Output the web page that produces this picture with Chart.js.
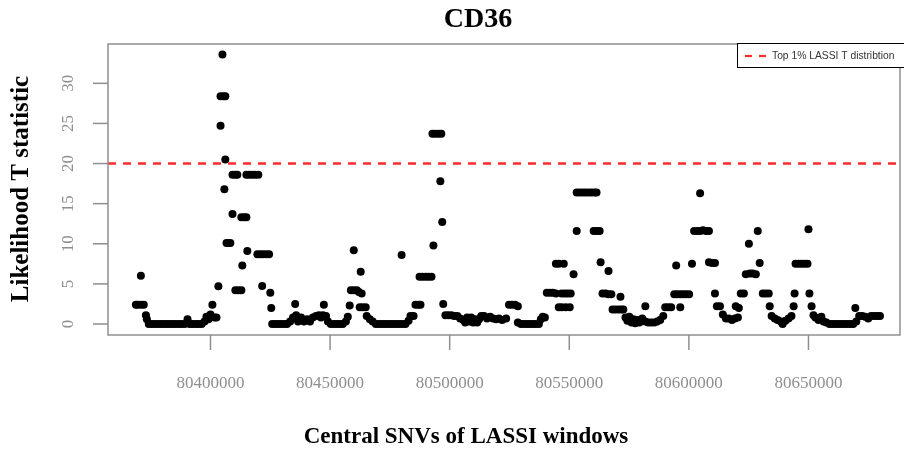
<!DOCTYPE html>
<html>
<head>
<meta charset="utf-8">
<script src="https://cdn.jsdelivr.net/npm/chart.js@4.4.1/dist/chart.umd.min.js"></script>
<style>
  html, body { margin: 0; padding: 0; background: #fff; }
  #wrap { width: 904px; height: 450px; }
</style>
</head>
<body>
<div id="wrap"><canvas id="plot" width="904" height="450"></canvas></div>
<script>
// ================= DATA =================
const geneName = "CD36";
const threshold = 20; // top 1% LASSI T

// central SNV position of each window (kb on the chromosome)
const snvPosKb = [
  80368.8, 80369.6, 80370.9, 80370.9, 80372.1, 80373.0, 80373.4, 80374.2, 80375.5, 80376.7,
  80378.0, 80379.2, 80380.4, 80381.7, 80382.9, 80384.2, 80385.4, 80386.7, 80387.9, 80389.2,
  80390.4, 80391.3, 80392.5, 80393.8, 80395.0, 80396.3, 80397.5, 80398.3, 80399.2, 80400.0,
  80400.8, 80401.7, 80402.5, 80403.3,
  80404.2, 80404.2, 80405.0, 80405.4, 80406.2, 80405.8, 80406.2, 80406.7, 80407.5, 80408.3,
  80409.2, 80409.2, 80410.4, 80411.2, 80410.4, 80411.6, 80412.9, 80413.3, 80412.9, 80414.1,
  80415.0, 80415.4, 80415.0, 80416.2, 80417.5, 80418.7, 80420.0, 80419.6, 80420.8, 80421.6,
  80422.0, 80423.3, 80424.5, 80425.0, 80425.4,
  80425.8, 80427.0, 80428.3, 80429.5, 80430.8, 80432.0, 80433.3, 80434.5, 80435.4, 80435.8,
  80436.6, 80437.9, 80439.1, 80440.4, 80441.6, 80442.8, 80444.1, 80445.3, 80446.2, 80447.0,
  80447.4, 80448.3, 80449.1, 80450.3, 80451.6, 80452.8, 80454.1, 80455.3, 80456.6, 80457.4,
  80458.2, 80458.7, 80459.9, 80459.9, 80461.2, 80462.0, 80462.4, 80462.8, 80463.2, 80463.6,
  80464.9, 80465.3, 80466.6, 80467.8,
  80469.1, 80470.3, 80471.6, 80472.8, 80474.0, 80475.3, 80476.5, 80477.8, 80479.0, 80479.9,
  80480.3, 80481.5, 80482.8, 80483.6, 80484.9, 80485.7, 80486.9, 80487.8, 80487.4, 80488.6,
  80489.9, 80491.1, 80492.4, 80493.2, 80492.8, 80494.0, 80495.3, 80496.5, 80496.1, 80496.9,
  80497.3,
  80498.2, 80499.4, 80500.7, 80501.9, 80503.2, 80504.4, 80505.7, 80506.5, 80507.3, 80508.2,
  80509.0, 80509.8, 80510.7, 80511.5, 80512.3, 80513.2, 80514.4, 80515.6, 80516.9, 80518.1,
  80519.4, 80520.6, 80521.9, 80523.6, 80524.8, 80526.0, 80527.3, 80528.5, 80528.5, 80529.8,
  80531.0, 80532.3, 80533.5, 80534.8, 80536.0, 80537.3, 80538.1, 80538.9, 80539.8,
  80540.6, 80541.9, 80543.1, 80544.4, 80544.4, 80545.6, 80545.6, 80546.8, 80546.8, 80547.7,
  80548.1, 80548.5, 80549.3, 80550.2, 80550.6, 80551.8, 80553.1, 80553.1, 80554.3, 80555.6,
  80556.8, 80558.1, 80559.3, 80560.6, 80561.4, 80560.2, 80561.4, 80562.7, 80563.1, 80563.9,
  80565.2, 80566.4, 80566.4, 80567.6, 80568.1, 80569.3, 80570.6, 80571.4, 80571.8, 80572.6,
  80573.5, 80574.3, 80575.1, 80576.0, 80576.8, 80577.6, 80578.5, 80579.3, 80580.5, 80581.8,
  80581.8, 80583.0, 80584.3, 80585.5, 80586.8, 80588.0, 80589.3,
  80590.1, 80591.4, 80592.6, 80593.9, 80594.7, 80595.1, 80596.4, 80596.4, 80597.6, 80598.8,
  80600.1, 80601.3, 80602.2, 80603.4, 80604.7, 80604.7, 80605.9, 80607.2, 80608.4, 80608.4,
  80609.7, 80610.9, 80610.9, 80611.7, 80613.0, 80614.2, 80615.5, 80616.7, 80618.0, 80619.2,
  80620.5, 80619.6, 80620.9, 80621.7, 80623.0, 80623.8, 80625.1, 80625.5, 80626.7, 80628.0,
  80628.8, 80629.6, 80630.9, 80632.1, 80633.4, 80633.8, 80634.6, 80635.9, 80637.1, 80638.4,
  80639.2, 80640.4, 80641.7, 80642.9, 80643.8, 80644.2, 80644.6, 80645.9, 80647.1, 80648.4,
  80649.6, 80650.0, 80650.4, 80651.3, 80652.1, 80652.9, 80654.2, 80655.4, 80656.3, 80657.5,
  80658.8, 80660.0, 80661.2, 80662.5, 80663.7, 80665.0, 80666.2, 80667.5, 80668.7, 80669.6,
  80670.0, 80671.2, 80672.5, 80673.7, 80675.0, 80676.2, 80677.5, 80678.7, 80679.9
];

// likelihood T statistic per window
const tStat = [
  2.4, 2.4, 6.0, 2.4, 2.4, 1.1, 0.6, 0, 0, 0,
  0, 0, 0, 0, 0, 0, 0, 0, 0, 0,
  0.6, 0, 0, 0, 0, 0, 0.3, 0.9, 0.6, 1.2,
  2.4, 0.8, 0.8, 4.7,
  24.7, 28.4, 33.6, 28.4, 28.4, 16.8, 20.5, 10.1, 10.1, 10.1,
  13.7, 18.6, 18.6, 18.6, 4.2, 4.2, 4.2, 7.3, 13.3, 13.3,
  13.3, 9.1, 18.6, 18.6, 18.6, 18.6, 18.6, 8.7, 8.7, 4.75,
  8.7, 8.7, 8.7, 3.9, 2.0,
  0, 0, 0, 0, 0, 0, 0.3, 0.8, 2.5, 1.1,
  0.3, 0.8, 0.3, 0.6, 0.3, 0.8, 1.0, 1.1, 0.8, 1.1,
  2.4, 1.0, 0.3, 0, 0, 0, 0, 0, 0.3, 0.9,
  2.3, 4.2, 9.2, 4.2, 4.2, 4.0, 2.1, 6.5, 3.8, 2.1,
  2.1, 1.0, 0.6, 0.3,
  0, 0, 0, 0, 0, 0, 0, 0, 0, 8.6,
  0, 0, 0.4, 1.0, 1.0, 2.4, 2.4, 2.4, 5.9, 5.9,
  5.9, 5.9, 5.9, 9.8, 23.7, 23.7, 23.7, 23.7, 17.8, 12.7,
  2.5,
  1.1, 1.1, 1.1, 1.0, 1.0, 0.7, 0.5, 0.2, 0.8, 0.3,
  0.8, 0.2, 0.6, 0.2, 0.6, 1.0, 1.0, 0.7, 0.9, 0.7,
  0.6, 0.7, 0.5, 0.7, 2.4, 2.4, 2.4, 2.2, 0.2, 0,
  0, 0, 0, 0, 0, 0, 0.6, 0.9, 0.8,
  3.9, 3.9, 3.9, 3.8, 7.5, 7.5, 2.1, 2.1, 3.8, 7.5,
  3.8, 2.1, 3.8, 2.1, 3.8, 6.2, 11.6, 16.4, 16.4, 16.4,
  16.4, 16.4, 16.4, 16.4, 16.4, 11.6, 11.6, 11.6, 7.7, 3.8,
  3.8, 6.6, 3.7, 3.7, 1.8, 1.8, 1.8, 3.4, 1.8, 1.8,
  0.8, 0.4, 0.9, 0.2, 0.6, 0.1, 0.5, 0.2, 0.7, 2.2,
  0.3, 0.2, 0.2, 0.2, 0.3, 0.5, 1.0,
  2.1, 2.1, 2.1, 3.7, 7.3, 3.7, 3.7, 2.1, 3.7, 3.7,
  3.7, 7.5, 11.6, 11.6, 16.3, 11.6, 11.7, 11.6, 11.6, 7.7,
  7.6, 7.6, 3.8, 2.2, 2.2, 1.2, 0.7, 0.7, 0.5, 0.7,
  0.8, 2.2, 2.0, 3.8, 3.8, 6.2, 10.0, 6.3, 6.3, 6.2,
  11.6, 7.6, 3.8, 3.8, 3.8, 2.2, 1.0, 0.7, 0.5, 0.3,
  0, 0.4, 0.7, 1.0, 2.2, 3.8, 7.5, 7.5, 7.5, 7.5,
  7.5, 11.8, 3.8, 2.2, 1.1, 0.8, 0.5, 0.9, 0.3, 0.2,
  0, 0, 0, 0, 0, 0, 0, 0, 0, 2.0,
  0.3, 1.0, 1.0, 0.9, 0.7, 1.0, 1.0, 1.0, 1.0
];

// axis ticks
const xTicks = [80400000, 80450000, 80500000, 80550000, 80600000, 80650000];
const yTicks = [0, 5, 10, 15, 20, 25, 30];

// plotting window (R style 4% padding)
const xMin = 80357150, xMax = 80688270;
const yMin = -1.37, yMax = 34.9;

const points = snvPosKb.map((p, i) => ({ x: Math.round(p * 1000), y: tStat[i] }));

// ================= R-LIKE AXES, TITLES, LEGEND =================
const serif = "'Liberation Serif', 'Times New Roman', serif";
const sans = "'Liberation Sans', Arial, sans-serif";

const rFrame = {
  id: 'rFrame',
  beforeDraw(chart) {
    const ctx = chart.ctx;
    ctx.save();
    ctx.fillStyle = '#ffffff';
    ctx.fillRect(0, 0, chart.width, chart.height);
    ctx.restore();
  },
  afterDraw(chart) {
    const { ctx, chartArea: a, scales } = chart;
    const xs = scales.x, ys = scales.y;
    ctx.save();

    // box
    ctx.strokeStyle = '#8f8f8f';
    ctx.lineWidth = 1.5;
    ctx.strokeRect(a.left, a.top, a.right - a.left, a.bottom - a.top);

    // y axis ticks + rotated labels
    ctx.fillStyle = '#8f8f8f';
    ctx.font = '17px ' + serif;
    ctx.textAlign = 'center';
    ctx.textBaseline = 'middle';
    yTicks.forEach(v => {
      const py = ys.getPixelForValue(v);
      ctx.beginPath();
      ctx.moveTo(a.left - 15, py);
      ctx.lineTo(a.left, py);
      ctx.stroke();
      ctx.save();
      ctx.translate(69, py);
      ctx.rotate(-Math.PI / 2);
      ctx.fillText(String(v), 0, 0);
      ctx.restore();
    });

    // x axis ticks + labels
    xTicks.forEach(v => {
      const px = xs.getPixelForValue(v);
      ctx.beginPath();
      ctx.moveTo(px, a.bottom);
      ctx.lineTo(px, a.bottom + 15);
      ctx.stroke();
      ctx.fillText(String(v), px, 384);
    });

    // titles
    ctx.fillStyle = '#000';
    ctx.font = 'bold 28px ' + serif;
    ctx.fillText(geneName, 478, 20);

    ctx.font = 'bold 23px ' + serif;
    ctx.fillText('Central SNVs of LASSI windows', 466, 437);

    ctx.font = 'bold 25px ' + serif;
    ctx.save();
    ctx.translate(22, 189);
    ctx.rotate(-Math.PI / 2);
    ctx.fillText('Likelihood T statistic', 0, 0);
    ctx.restore();

    // legend (top right)
    const lx = 737, ly = a.top - 1, lw = 170, lh = 24;
    ctx.fillStyle = '#fff';
    ctx.fillRect(lx, ly, lw, lh);
    ctx.strokeStyle = '#000';
    ctx.lineWidth = 1;
    ctx.strokeRect(lx + 0.5, ly + 0.5, lw, lh);
    ctx.strokeStyle = '#ff2a2a';
    ctx.lineWidth = 2.2;
    ctx.setLineDash([7, 7]);
    ctx.beginPath();
    ctx.moveTo(745, ly + 13);
    ctx.lineTo(766, ly + 13);
    ctx.stroke();
    ctx.setLineDash([]);
    ctx.fillStyle = '#333';
    ctx.font = '10.3px ' + sans;
    ctx.textAlign = 'left';
    ctx.fillText('Top 1% LASSI T distribtion', 772, ly + 13);

    ctx.restore();
  }
};

// ================= CHART =================
new Chart(document.getElementById('plot'), {
  type: 'scatter',
  data: {
    datasets: [
      {
        label: 'Top 1% LASSI T distribtion',
        data: [{ x: xMin, y: threshold }, { x: xMax, y: threshold }],
        showLine: true,
        borderColor: '#ff2a2a',
        borderWidth: 2.5,
        borderDash: [8, 7],
        pointRadius: 0,
        order: 0
      },
      {
        label: geneName,
        data: points,
        backgroundColor: '#000',
        borderColor: '#000',
        borderWidth: 0,
        pointRadius: 4,
        order: 1
      }
    ]
  },
  options: {
    responsive: false,
    animation: false,
    layout: { padding: { left: 108, right: 0, top: 44, bottom: 115 } },
    scales: {
      x: { type: 'linear', min: xMin, max: xMax, display: false },
      y: { type: 'linear', min: yMin, max: yMax, display: false }
    },
    plugins: {
      legend: { display: false },
      tooltip: { enabled: false }
    }
  },
  plugins: [rFrame]
});
</script>
</body>
</html>
